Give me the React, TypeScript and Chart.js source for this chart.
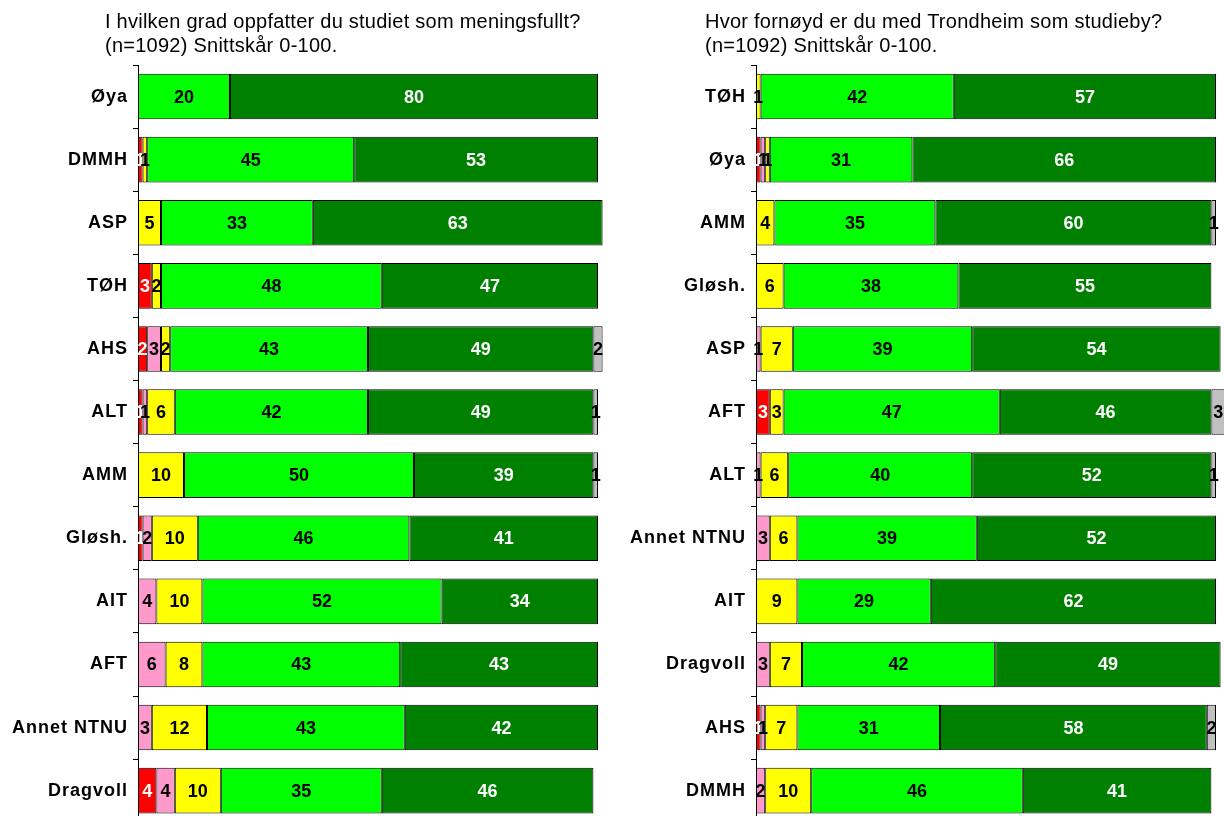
import React, { useEffect, useRef } from "react";
import { Chart, registerables } from "chart.js";

Chart.register(...registerables);

// ---- Left panel data ----
const leftTitle1 = "I hvilken grad oppfatter du studiet som meningsfullt?";
const leftTitle2 = "(n=1092) Snittskår 0-100.";
const leftCategories = ["Øya", "DMMH", "ASP", "TØH", "AHS", "ALT", "AMM", "Gløsh.", "AIT", "AFT", "Annet NTNU", "Dragvoll"];
const leftRed = [0, 1, 0, 3, 2, 1, 0, 1, 0, 0, 0, 4];
const leftPink = [0, 0, 0, 0, 3, 1, 0, 2, 4, 6, 3, 4];
const leftYellow = [0, 1, 5, 2, 2, 6, 10, 10, 10, 8, 12, 10];
const leftLightGreen = [20, 45, 33, 48, 43, 42, 50, 46, 52, 43, 43, 35];
const leftDarkGreen = [80, 53, 63, 47, 49, 49, 39, 41, 34, 43, 42, 46];
const leftGray = [0, 0, 0, 0, 2, 1, 1, 0, 0, 0, 0, 0];

// ---- Right panel data ----
const rightTitle1 = "Hvor fornøyd er du med Trondheim som studieby?";
const rightTitle2 = "(n=1092) Snittskår 0-100.";
const rightCategories = ["TØH", "Øya", "AMM", "Gløsh.", "ASP", "AFT", "ALT", "Annet NTNU", "AIT", "Dragvoll", "AHS", "DMMH"];
const rightRed = [0, 1, 0, 0, 0, 3, 0, 0, 0, 0, 1, 0];
const rightPink = [0, 1, 0, 0, 1, 0, 1, 3, 0, 3, 1, 2];
const rightYellow = [1, 1, 4, 6, 7, 3, 6, 6, 9, 7, 7, 10];
const rightLightGreen = [42, 31, 35, 38, 39, 47, 40, 39, 29, 42, 31, 46];
const rightDarkGreen = [57, 66, 60, 55, 54, 46, 52, 52, 62, 49, 58, 41];
const rightGray = [0, 0, 1, 0, 0, 3, 1, 0, 0, 0, 2, 0];

const segColors = ["#FF0000", "#FF99CC", "#FFFF00", "#00FF00", "#008000", "#C0C0C0"];
const segLabelColors = ["#FFFFFF", "#000000", "#000000", "#000000", "#FFFFFF", "#000000"];

const LABEL_FONT = "bold 18px 'Liberation Sans', Arial, sans-serif";

const tickSpacing = {
  id: "tickSpacing",
  beforeDraw(chart: any) {
    (chart.ctx as any).letterSpacing = "1px";
  },
  afterDraw(chart: any) {
    (chart.ctx as any).letterSpacing = "0px";
  },
};

const valueLabels = {
  id: "valueLabels",
  afterDatasetsDraw(chart: any) {
    const ctx = chart.ctx;
    ctx.save();
    (ctx as any).letterSpacing = "0px";
    ctx.font = LABEL_FONT;
    ctx.textAlign = "center";
    ctx.textBaseline = "middle";
    chart.data.datasets.forEach((ds: any, i: number) => {
      const meta = chart.getDatasetMeta(i);
      meta.data.forEach((el: any, j: number) => {
        const v = ds.data[j];
        if (!v) return;
        const p = el.getProps(["x", "base", "y"], true);
        ctx.fillStyle = segLabelColors[i];
        ctx.fillText(String(v), (p.x + p.base) / 2, p.y + 1);
      });
    });
    ctx.restore();
  },
};

function makeConfig(categories: string[], series: number[][], xMax: number) {
  return {
    type: "bar" as const,
    data: {
      labels: categories,
      datasets: series.map((d, i) => ({
        data: d,
        backgroundColor: segColors[i],
        borderColor: "#000000",
        borderWidth: 1,
        borderSkipped: false,
        barPercentage: 0.722,
        categoryPercentage: 1,
      })),
    },
    options: {
      indexAxis: "y" as const,
      animation: false as const,
      responsive: false,
      devicePixelRatio: 1,
      layout: { padding: { top: 65, bottom: 0, left: 0, right: 0 } },
      plugins: { legend: { display: false }, tooltip: { enabled: false }, title: { display: false } },
      scales: {
        x: { stacked: true, min: 0, max: xMax, display: false },
        y: {
          stacked: true,
          afterFit: (scale: any) => {
            scale.width = 138;
          },
          border: { display: true, color: "#000000", width: 1 },
          grid: { offset: true, drawOnChartArea: false, drawTicks: true, tickLength: 5, color: "#000000", lineWidth: 1 },
          ticks: {
            color: "#000000",
            padding: 5,
            font: { family: "'Liberation Sans', Arial, sans-serif", size: 18, weight: "bold" as const },
          },
        },
      },
    },
    plugins: [tickSpacing, valueLabels],
  };
}

const CANVAS_H = 838;

function Panel(props: { left: number; width: number; categories: string[]; series: number[][]; xMax: number; t1: string; t2: string; titleLeft: number }) {
  const ref = useRef<HTMLCanvasElement>(null);
  useEffect(() => {
    if (!ref.current) return;
    const chart = new Chart(ref.current, makeConfig(props.categories, props.series, props.xMax) as any);
    return () => chart.destroy();
  }, []);
  return (
    <>
      <canvas
        ref={ref}
        width={props.width}
        height={CANVAS_H}
        style={{ position: "absolute", left: props.left, top: 0, width: props.width, height: CANVAS_H }}
      />
      <div
        style={{
          position: "absolute",
          left: props.titleLeft,
          top: 9,
          fontFamily: "'Liberation Sans', Arial, sans-serif",
          fontSize: 20,
          letterSpacing: "0.25px",
          lineHeight: "24px",
          color: "#000",
          whiteSpace: "nowrap",
        }}
      >
        <div>{props.t1}</div>
        <div>{props.t2}</div>
      </div>
    </>
  );
}

export default function App() {
  return (
    <div style={{ position: "fixed", left: 0, top: 0, width: 1224, height: 816, overflow: "hidden", background: "#fff" }}>
      <Panel
        left={0}
        width={618}
        categories={leftCategories}
        series={[leftRed, leftPink, leftYellow, leftLightGreen, leftDarkGreen, leftGray]}
        xMax={480 / 4.6}
        t1={leftTitle1}
        t2={leftTitle2}
        titleLeft={105}
      />
      <Panel
        left={618}
        width={644}
        categories={rightCategories}
        series={[rightRed, rightPink, rightYellow, rightLightGreen, rightDarkGreen, rightGray]}
        xMax={110}
        t1={rightTitle1}
        t2={rightTitle2}
        titleLeft={705}
      />
    </div>
  );
}
